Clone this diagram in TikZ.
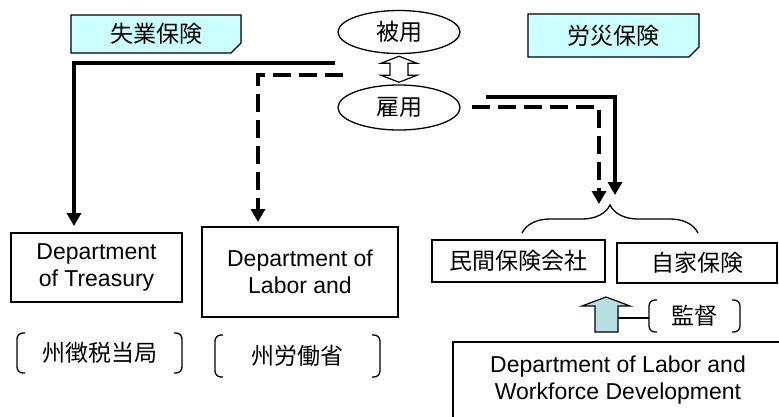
\documentclass[tikz,border=0pt]{standalone}
\usepackage{fontspec}
\setmainfont{Liberation Sans}
\newfontfamily\jpfont{Noto Sans CJK JP}
\usetikzlibrary{arrows.meta, calc, positioning, shapes.geometric, shapes.misc, decorations.pathreplacing}

\definecolor{notecyan}{HTML}{CCFFFF}
\definecolor{arrowteal}{HTML}{B7DEE0}

% rounded brackets round a named node
\newcommand{\kakko}[1]{%
  \draw[bracket] ($(#1.north west)+(8,0)$) -- (#1.north west) -- (#1.south west) -- ($(#1.south west)+(8,0)$);
  \draw[bracket] ($(#1.north east)+(-8,0)$) -- (#1.north east) -- (#1.south east) -- ($(#1.south east)+(-8,0)$);}

\begin{document}
\begin{tikzpicture}[x=1pt, y=-1pt,
    every node/.style={inner sep=0pt, outer sep=0pt},
    en/.style={font=\fontsize{23}{27}\selectfont, align=center},
    ja/.style={font=\jpfont\fontsize{23}{27}\selectfont},
    box/.style={draw, line width=1.5pt},
    note/.style={ja, draw, line width=1.2pt, fill=notecyan, chamfered rectangle,
        chamfered rectangle corners=south east, chamfered rectangle xsep=5pt, chamfered rectangle ysep=5pt},
    oval/.style={ja, draw, line width=1.3pt, ellipse, minimum width=122pt},
    link/.style={line width=4pt, -{Triangle[width=14pt,length=13pt]}},
    dlink/.style={link, dash pattern=on 18pt off 8pt},
    bracket/.style={line width=1.3pt, rounded corners=6pt},
    blockarrow/.style={draw, line width=1.2pt}]

    \clip (0,0) rectangle (779,416);
    \useasboundingbox (0,0) rectangle (779,416);

    % insurance labels
    \node[note, minimum width=170pt, minimum height=38pt] (unemp) at (156,34) {失業保険};
    \node[note, minimum width=171pt, minimum height=43pt] (rosai) at (613.5,35.5) {労災保険};

    % employee / employer
    \node[oval, minimum height=43pt] (hiyo) at (399,32) {被用};
    \node[oval, minimum height=45pt] (koyo) at (399,107.5) {雇用};
    \coordinate (mid) at ($(hiyo.south)!0.5!(koyo.north)$);
    \draw[blockarrow, fill=white] ($(mid)+(0,-13)$) -- ++(18,7) -- ++(-9,0) -- ++(0,12) -- ++(9,0)
        -- ++(-18,7) -- ++(-18,-7) -- ++(9,0) -- ++(0,-12) -- ++(-9,0) -- cycle;

    % agencies
    \node[box, en, minimum width=171pt, minimum height=69pt] (treas) at (96.5,267.5) {Department\\of Treasury};
    \node[box, en, minimum width=196pt, minimum height=90pt] (labor) at (300,272) {Department of\\Labor and};
    \node[box, ja, minimum width=173pt, minimum height=42pt] (insco) at (518.5,261) {民間保険会社};
    \node[box, ja, minimum width=160pt, minimum height=40pt] (selfins) at (697,263) {自家保険};
    \node[box, en, minimum width=330pt, minimum height=76pt] (dlwd) at (618,380) {Department of Labor and\\Workforce Development};

    % bracketed names
    \node[ja, minimum width=165pt, minimum height=40pt] (tax) at (99.5,353) {州徴税当局};
    \node[ja, minimum width=165pt, minimum height=42pt] (statelab) at (297.5,356) {州労働省};
    \node[ja, minimum width=91pt, minimum height=32pt] (kantoku) at (694.5,316) {監督};
    \kakko{tax}
    \kakko{statelab}
    \kakko{kantoku}

    % flows
    \coordinate (s1) at (335,63);
    \coordinate (d1) at (343,75);
    \coordinate (s2) at (486,97);
    \coordinate (d2) at (472,107);
    \draw[link] (s1) -| ($(treas.north)+(-22.5,-7)$);
    \draw[dlink] (d1) -| ($(labor.north)+(-42,-5)$);
    \draw[link] (s2) -| (615,195);
    \draw[dlink] (d2) -| (599,204);

    % brace over the insurers
    \draw[line width=1.3pt, decorate, decoration={brace, amplitude=28pt}] (522,233) -- (698,233);

    % supervision
    \draw[blockarrow, fill=arrowteal] (606,297) -- (630,306) -- (618,306) -- (618,332) -- (595,332)
        -- (595,306) -- (582,306) -- cycle;
    \draw[line width=1.3pt] (618,318) -- (kantoku.west |- 0,318);
\end{tikzpicture}
\end{document}
